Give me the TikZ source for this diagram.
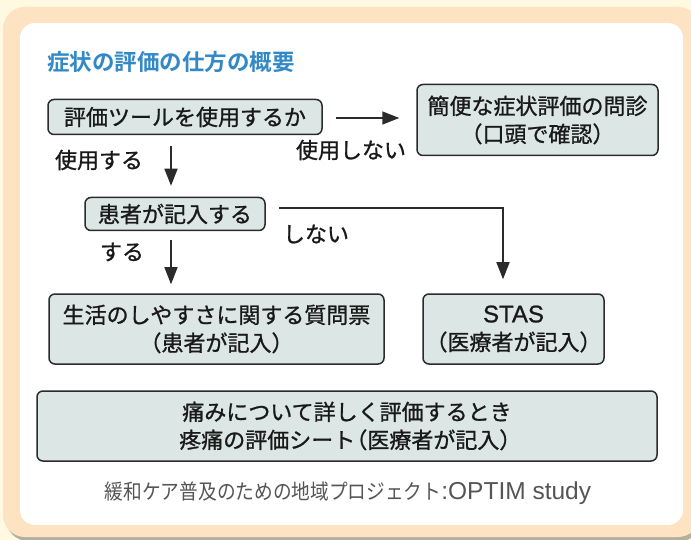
\documentclass[tikz,border=0pt]{standalone}
\usepackage{fontspec}
\usetikzlibrary{arrows.meta,calc}
\newfontfamily\jp[FakeBold=1]{Noto Sans CJK JP}
\newfontfamily\jpb{Noto Sans CJK JP Bold}
\newfontfamily\jpc[FakeStretch=0.89]{Noto Sans CJK JP}
\newfontfamily\capsans{Liberation Sans}
\newfontfamily\latsans[FakeBold=1]{Liberation Sans}
\definecolor{bgcream}{HTML}{FFF9E2}
\definecolor{frameor}{HTML}{FDE3C1}
\definecolor{boxfill}{HTML}{DCE7E5}
\definecolor{boxline}{HTML}{2B2B2B}
\definecolor{titleblue}{HTML}{3289C6}
\definecolor{capgray}{HTML}{555555}
\definecolor{shadowgray}{HTML}{B4B09E}
\tikzset{
  box/.style={draw=boxline, line width=1.5pt, fill=boxfill, rounded corners=6pt,
    inner sep=0pt, align=center, font=\jp\fontsize{22}{28}\selectfont, text=black!90},
  lbl/.style={inner sep=0pt, font=\jp\fontsize{22}{24}\selectfont, text=black!90},
  arr/.style={line width=1.6pt, draw=boxline, -{Triangle[length=17pt,width=13pt]}},
  conn/.style={line width=1.6pt, draw=boxline}
}
\begin{document}
\begin{tikzpicture}[x=1pt,y=-1pt]
\useasboundingbox (0,0) rectangle (691,540);
\begin{scope}
\clip (0,0) rectangle (691,540);
\fill[bgcream] (0,0) rectangle (691,540);
\fill[shadowgray] (6,12) [rounded corners=22pt] rectangle (702,541);
\fill[frameor] (3,7) [rounded corners=22pt] rectangle (700,537);
\fill[white] (20,23) [rounded corners=15pt] rectangle (683,525);
\end{scope}

\node[inner sep=0pt, anchor=west, text=titleblue, font=\jpb\fontsize{22.5}{24}\selectfont] (title) at (47,62) {症状の評価の仕方の概要};

\node[box, minimum width=274pt, minimum height=35pt] (b1) at (185,117) {評価ツールを使用するか};
\node[box, minimum width=241pt, minimum height=71pt] (b2) at (537.5,120) {簡便な症状評価の問診\\（口頭で確認）};
\node[box, minimum width=180pt, minimum height=33pt] (b3) at (175,214) {患者が記入する};
\node[box, minimum width=335pt, minimum height=70pt] (b4) at (216.5,329) {生活のしやすさに関する質問票\\（患者が記入）};
\node[box, minimum width=181pt, minimum height=70pt] (b5) at (513.5,329) {{\latsans\fontsize{24}{28}\selectfont STAS}\\（医療者が記入）};
\node[box, minimum width=620pt, minimum height=70pt] (b6) at (347,426) {痛みについて詳しく評価するとき\\疼痛の評価シート\kern-0.45em（医療者が記入）\kern-0.3em};

\node[lbl] (l1) at (99,160) {使用する};
\node[lbl] (l2) at (351,150) {使用しない};
\node[lbl] (l3) at (122,252) {する};
\node[lbl] (l4) at (316,234) {しない};

\node[inner sep=0pt, text=capgray] (cap) at (348,493) {\jpc\fontsize{21}{24}\selectfont 緩和ケア普及のための地域プロジェクト\capsans\fontsize{24.5}{24}\selectfont:OPTIM study};

\coordinate (vx) at (171,0);
\coordinate (hy) at (0,208);
\coordinate (rx) at (503,0);
\coordinate (ay) at (0,118);

\draw[arr, shorten <=13pt, shorten >=17pt] (b1.east |- ay) -- (b2.west |- ay);
\draw[arr, shorten <=11pt, shorten >=11pt] (vx |- b1.south) -- (vx |- b3.north);
\draw[arr, shorten <=9pt, shorten >=9pt] (vx |- b3.south) -- (vx |- b4.north);
\coordinate (hs) at ($(b3.east |- hy)+(13,0)$);
\draw[arr, shorten >=14pt] (hs) -- (rx |- hy) -- (rx |- b5.north);
\end{tikzpicture}
\end{document}
